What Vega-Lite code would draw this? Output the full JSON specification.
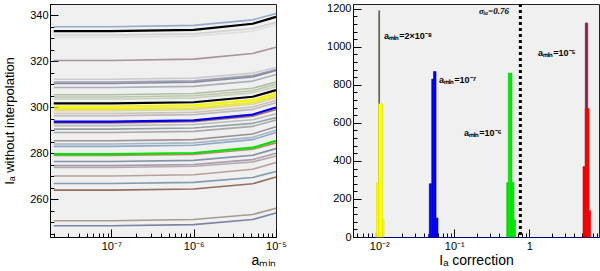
{
  "$schema": "https://vega.github.io/schema/vega-lite/v6.json",
  "padding": {"left": 3, "top": -3, "right": 2, "bottom": 0},
  "spacing": 39,
  "resolve": {"scale": {"color": "independent", "stroke": "independent"}},
  "config": {
    "font": "Liberation Sans",
    "view": {"fill": "#f0f0f0", "stroke": "#222222", "strokeWidth": 1},
    "axis": {
      "grid": false,
      "domainColor": "#000000",
      "tickColor": "#000000",
      "labelColor": "#000000",
      "titleColor": "#000000",
      "labelFontSize": 11,
      "titleFontSize": 14,
      "titleFontWeight": "normal",
      "labelOverlap": false,
      "labelFlush": false
    }
  },
  "datasets": {
    "lines": [
      {"s":1,"a":2e-8,"v":335.1},{"s":1,"a":1e-7,"v":335.1},{"s":1,"a":1e-6,"v":335.7},{"s":1,"a":5.2e-6,"v":338.1},{"s":1,"a":1e-5,"v":340.9},
      {"s":2,"a":2e-8,"v":333.2},{"s":2,"a":1e-7,"v":333.2},{"s":2,"a":1e-6,"v":333.7},{"s":2,"a":5.2e-6,"v":336.4},{"s":2,"a":1e-5,"v":339.4},
      {"s":3,"a":2e-8,"v":331.5},{"s":3,"a":1e-7,"v":331.5},{"s":3,"a":1e-6,"v":332.0},{"s":3,"a":5.2e-6,"v":334.3},{"s":3,"a":1e-5,"v":337.0},
      {"s":4,"a":2e-8,"v":330.5},{"s":4,"a":1e-7,"v":330.5},{"s":4,"a":1e-6,"v":331.0},{"s":4,"a":5.2e-6,"v":333.2},{"s":4,"a":1e-5,"v":336.0},
      {"s":5,"a":2e-8,"v":320.4},{"s":5,"a":1e-7,"v":320.4},{"s":5,"a":1e-6,"v":321.0},{"s":5,"a":5.2e-6,"v":323.4},{"s":5,"a":1e-5,"v":326.2},
      {"s":6,"a":2e-8,"v":312.2},{"s":6,"a":1e-7,"v":312.2},{"s":6,"a":1e-6,"v":312.7},{"s":6,"a":5.2e-6,"v":314.9},{"s":6,"a":1e-5,"v":317.3},
      {"s":7,"a":2e-8,"v":311.0},{"s":7,"a":1e-7,"v":311.0},{"s":7,"a":1e-6,"v":311.5},{"s":7,"a":5.2e-6,"v":313.8},{"s":7,"a":1e-5,"v":316.5},
      {"s":8,"a":2e-8,"v":310.4},{"s":8,"a":1e-7,"v":310.4},{"s":8,"a":1e-6,"v":310.9},{"s":8,"a":5.2e-6,"v":313.2},{"s":8,"a":1e-5,"v":316.0},
      {"s":9,"a":2e-8,"v":308.6},{"s":9,"a":1e-7,"v":308.6},{"s":9,"a":1e-6,"v":309.1},{"s":9,"a":5.2e-6,"v":311.4},{"s":9,"a":1e-5,"v":314.3},
      {"s":10,"a":2e-8,"v":305.5},{"s":10,"a":1e-7,"v":305.5},{"s":10,"a":1e-6,"v":306.0},{"s":10,"a":5.2e-6,"v":308.3},{"s":10,"a":1e-5,"v":311.0},
      {"s":11,"a":2e-8,"v":304.5},{"s":11,"a":1e-7,"v":304.5},{"s":11,"a":1e-6,"v":305.0},{"s":11,"a":5.2e-6,"v":307.2},{"s":11,"a":1e-5,"v":310.0},
      {"s":12,"a":2e-8,"v":303.6},{"s":12,"a":1e-7,"v":303.6},{"s":12,"a":1e-6,"v":304.1},{"s":12,"a":5.2e-6,"v":306.3},{"s":12,"a":1e-5,"v":309.0},
      {"s":13,"a":2e-8,"v":301.7},{"s":13,"a":1e-7,"v":301.7},{"s":13,"a":1e-6,"v":302.2},{"s":13,"a":5.2e-6,"v":304.6},{"s":13,"a":1e-5,"v":307.5},
      {"s":14,"a":2e-8,"v":300.3},{"s":14,"a":1e-7,"v":300.3},{"s":14,"a":1e-6,"v":300.8},{"s":14,"a":5.2e-6,"v":303.1},{"s":14,"a":1e-5,"v":306.0},
      {"s":15,"a":2e-8,"v":299.2},{"s":15,"a":1e-7,"v":299.2},{"s":15,"a":1e-6,"v":299.7},{"s":15,"a":5.2e-6,"v":302.0},{"s":15,"a":1e-5,"v":305.0},
      {"s":16,"a":2e-8,"v":298.5},{"s":16,"a":1e-7,"v":298.5},{"s":16,"a":1e-6,"v":299.0},{"s":16,"a":5.2e-6,"v":301.3},{"s":16,"a":1e-5,"v":304.2},
      {"s":17,"a":2e-8,"v":297.3},{"s":17,"a":1e-7,"v":297.3},{"s":17,"a":1e-6,"v":297.8},{"s":17,"a":5.2e-6,"v":300.1},{"s":17,"a":1e-5,"v":303.0},
      {"s":18,"a":2e-8,"v":296.3},{"s":18,"a":1e-7,"v":296.3},{"s":18,"a":1e-6,"v":296.8},{"s":18,"a":5.2e-6,"v":299.1},{"s":18,"a":1e-5,"v":302.0},
      {"s":19,"a":2e-8,"v":293.8},{"s":19,"a":1e-7,"v":293.8},{"s":19,"a":1e-6,"v":294.3},{"s":19,"a":5.2e-6,"v":296.8},{"s":19,"a":1e-5,"v":299.9},
      {"s":20,"a":2e-8,"v":293.2},{"s":20,"a":1e-7,"v":293.2},{"s":20,"a":1e-6,"v":293.7},{"s":20,"a":5.2e-6,"v":296.1},{"s":20,"a":1e-5,"v":299.0},
      {"s":21,"a":2e-8,"v":292.0},{"s":21,"a":1e-7,"v":292.0},{"s":21,"a":1e-6,"v":292.5},{"s":21,"a":5.2e-6,"v":294.6},{"s":21,"a":1e-5,"v":297.2},
      {"s":22,"a":2e-8,"v":290.5},{"s":22,"a":1e-7,"v":290.5},{"s":22,"a":1e-6,"v":291.0},{"s":22,"a":5.2e-6,"v":293.0},{"s":22,"a":1e-5,"v":295.5},
      {"s":23,"a":2e-8,"v":289.0},{"s":23,"a":1e-7,"v":289.0},{"s":23,"a":1e-6,"v":289.5},{"s":23,"a":5.2e-6,"v":291.7},{"s":23,"a":1e-5,"v":294.5},
      {"s":24,"a":2e-8,"v":285.4},{"s":24,"a":1e-7,"v":285.4},{"s":24,"a":1e-6,"v":285.9},{"s":24,"a":5.2e-6,"v":288.4},{"s":24,"a":1e-5,"v":291.5},
      {"s":25,"a":2e-8,"v":284.0},{"s":25,"a":1e-7,"v":284.0},{"s":25,"a":1e-6,"v":284.5},{"s":25,"a":5.2e-6,"v":286.9},{"s":25,"a":1e-5,"v":290.0},
      {"s":26,"a":2e-8,"v":283.0},{"s":26,"a":1e-7,"v":283.0},{"s":26,"a":1e-6,"v":283.5},{"s":26,"a":5.2e-6,"v":285.9},{"s":26,"a":1e-5,"v":289.0},
      {"s":27,"a":2e-8,"v":279.6},{"s":27,"a":1e-7,"v":279.6},{"s":27,"a":1e-6,"v":280.1},{"s":27,"a":5.2e-6,"v":282.4},{"s":27,"a":1e-5,"v":285.4},
      {"s":28,"a":2e-8,"v":279.0},{"s":28,"a":1e-7,"v":279.0},{"s":28,"a":1e-6,"v":279.5},{"s":28,"a":5.2e-6,"v":281.7},{"s":28,"a":1e-5,"v":284.5},
      {"s":29,"a":2e-8,"v":276.4},{"s":29,"a":1e-7,"v":276.4},{"s":29,"a":1e-6,"v":276.9},{"s":29,"a":5.2e-6,"v":279.1},{"s":29,"a":1e-5,"v":282.0},
      {"s":30,"a":2e-8,"v":274.6},{"s":30,"a":1e-7,"v":274.6},{"s":30,"a":1e-6,"v":275.1},{"s":30,"a":5.2e-6,"v":277.2},{"s":30,"a":1e-5,"v":280.0},
      {"s":31,"a":2e-8,"v":273.8},{"s":31,"a":1e-7,"v":273.8},{"s":31,"a":1e-6,"v":274.3},{"s":31,"a":5.2e-6,"v":276.2},{"s":31,"a":1e-5,"v":278.8},
      {"s":32,"a":2e-8,"v":270.1},{"s":32,"a":1e-7,"v":270.1},{"s":32,"a":1e-6,"v":270.6},{"s":32,"a":5.2e-6,"v":273.0},{"s":32,"a":1e-5,"v":276.0},
      {"s":33,"a":2e-8,"v":266.8},{"s":33,"a":1e-7,"v":266.8},{"s":33,"a":1e-6,"v":267.3},{"s":33,"a":5.2e-6,"v":269.4},{"s":33,"a":1e-5,"v":272.0},
      {"s":34,"a":2e-8,"v":263.9},{"s":34,"a":1e-7,"v":263.9},{"s":34,"a":1e-6,"v":264.4},{"s":34,"a":5.2e-6,"v":266.7},{"s":34,"a":1e-5,"v":269.6},
      {"s":35,"a":2e-8,"v":250.6},{"s":35,"a":1e-7,"v":250.6},{"s":35,"a":1e-6,"v":251.1},{"s":35,"a":5.2e-6,"v":253.3},{"s":35,"a":1e-5,"v":256.0},
      {"s":36,"a":2e-8,"v":248.4},{"s":36,"a":1e-7,"v":248.4},{"s":36,"a":1e-6,"v":248.9},{"s":36,"a":5.2e-6,"v":251.1},{"s":36,"a":1e-5,"v":254.0}
    ],
    "hist": [
      {"h":"m","x0":5.58,"x1":6.01,"n":1125},
      {"h":"y","x0":0.0089,"x1":0.00918,"n":20},
      {"h":"y","x0":0.00918,"x1":0.00976,"n":285},
      {"h":"y","x0":0.00976,"x1":0.01104,"n":700},
      {"h":"y","x0":0.01104,"x1":0.01156,"n":90},
      {"h":"b","x0":0.0455,"x1":0.0464,"n":15},
      {"h":"b","x0":0.0464,"x1":0.05,"n":280},
      {"h":"b","x0":0.05,"x1":0.0528,"n":830},
      {"h":"b","x0":0.0528,"x1":0.0571,"n":870},
      {"h":"b","x0":0.0571,"x1":0.0606,"n":100},
      {"h":"g","x0":0.4996,"x1":0.5248,"n":286},
      {"h":"g","x0":0.5248,"x1":0.5878,"n":862},
      {"h":"g","x0":0.5878,"x1":0.6252,"n":286},
      {"h":"g","x0":0.6252,"x1":0.6546,"n":90},
      {"h":"r","x0":5.2,"x1":5.58,"n":370},
      {"h":"r","x0":5.58,"x1":6.01,"n":675},
      {"h":"r","x0":6.01,"x1":6.25,"n":675},
      {"h":"r","x0":6.25,"x1":6.55,"n":140}
    ],
    "spike": [
      {"x0":0.00985,"x1":0.01009,"n":1190}
    ],
    "sig": [
      {"x0":0.76,"n":1225,"n0":0}
    ],
    "notes": [
      {"x0":0.01155,"n":1055,"t":"aₘᵢₙ=2×10⁻⁸"},
      {"x0":0.0625,"n":823,"t":"aₘᵢₙ=10⁻⁷"},
      {"x0":0.1346,"n":545,"t":"aₘᵢₙ=10⁻⁶"},
      {"x0":1.306,"n":970,"t":"aₘᵢₙ=10⁻⁵"}
    ],
    "sigma": [
      {"x0":0.2133,"n":1190,"t":"σᵢₐ=0.76"}
    ]
  },
  "hconcat": [
    {
      "width": 226,
      "height": 233,
      "data": {"name": "lines"},
      "encoding": {
        "x": {
          "field": "a", "type": "quantitative",
          "scale": {"type": "log", "domain": [1.8e-8, 1e-5], "nice": false},
          "axis": {
            "title": "aₘᵢₙ",
            "titleAnchor": "end",
            "titlePadding": -2,
            "values": [2e-8,3e-8,4e-8,5e-8,6e-8,7e-8,8e-8,9e-8,1e-7,2e-7,3e-7,4e-7,5e-7,6e-7,7e-7,8e-7,9e-7,1e-6,2e-6,3e-6,4e-6,5e-6,6e-6,7e-6,8e-6,9e-6,1e-5],
            "labelExpr": "abs(log(datum.value)/LN10+7)<0.01 ? '10⁻⁷' : abs(log(datum.value)/LN10+6)<0.01 ? '10⁻⁶' : abs(log(datum.value)/LN10+5)<0.01 ? '10⁻⁵' : ''",
            "tickSize": {"condition": {"test": "abs(log(datum.value)/LN10 - round(log(datum.value)/LN10)) < 0.01", "value": -8}, "value": -4},
            "labelPadding": 11
          }
        },
        "y": {
          "field": "v", "type": "quantitative",
          "scale": {"domain": [243.5, 345], "nice": false, "zero": false},
          "axis": {
            "title": "Iₐ without interpolation",
            "titleFontSize": 13,
            "titlePadding": 13,
            "values": [245,250,255,260,265,270,275,280,285,290,295,300,305,310,315,320,325,330,335,340,345],
            "format": "d",
            "labelExpr": "indexof([260,280,300,320,340], datum.value) >= 0 ? datum.label : ''",
            "tickSize": {"condition": {"test": "indexof([260,280,300,320,340], datum.value) >= 0", "value": -8}, "value": -4},
            "labelPadding": 10
          }
        },
        "color": {
          "field": "s", "type": "nominal", "legend": null,
          "scale": {
            "domain": [1,2,3,4,5,6,7,8,9,10,11,12,13,14,15,16,17,18,19,20,21,22,23,24,25,26,27,28,29,30,31,32,33,34,35,36],
            "range": ["#8ea2c8","#000000","#cfcfcf","#dddddd","#a08a90","#c8c8cc","#9696aa","#7d8198","#a0aab0","#a8b89a","#b4c2a4","#c4ccb4","#000000","#f5f500","#e8e840","#d8d0a0","#c8c0b0","#b8b0b8","#0000e6","#a06060","#b0b8b0","#8898a0","#a0a0a0","#908888","#a0b0c0","#80a0c0","#00e000","#b08060","#7888a0","#a090a8","#b0a0a0","#b09890","#7890a8","#8a6050","#a09088","#707898"]
          }
        },
        "detail": {"field": "s", "type": "nominal"}
      },
      "layer": [
        {
          "transform": [{"filter": {"not": {"field": "s", "oneOf": [2, 13, 14, 15, 19, 27]}}}],
          "mark": {"type": "line", "strokeWidth": 1.6, "opacity": 0.9}
        },
        {
          "transform": [{"filter": {"field": "s", "oneOf": [2, 13, 14, 15, 19, 27]}}],
          "mark": {"type": "line", "strokeWidth": 2.2}
        }
      ]
    },
    {
      "width": 246,
      "height": 233,
      "encoding": {
        "x": {
          "field": "x0", "type": "quantitative",
          "scale": {"type": "log", "domain": [0.00446, 8.5], "nice": false},
          "axis": {
            "title": "Iₐ correction",
            "titlePadding": -2,
            "values": [0.005,0.006,0.007,0.008,0.009,0.01,0.02,0.03,0.04,0.05,0.06,0.07,0.08,0.09,0.1,0.2,0.3,0.4,0.5,0.6,0.7,0.8,0.9,1,2,3,4,5,6,7,8],
            "labelExpr": "abs(log(datum.value)/LN10+2)<0.01 ? '10⁻²' : abs(log(datum.value)/LN10+1)<0.01 ? '10⁻¹' : abs(log(datum.value)/LN10)<0.01 ? '1' : ''",
            "tickSize": {"condition": {"test": "abs(log(datum.value)/LN10 - round(log(datum.value)/LN10)) < 0.01", "value": -8}, "value": -4},
            "labelPadding": 11,
            "domainColor": "#000080"
          }
        },
        "y": {
          "field": "n", "type": "quantitative",
          "scale": {"domain": [0, 1225], "nice": false},
          "axis": {
            "title": null,
            "values": [0,40,80,120,160,200,240,280,320,360,400,440,480,520,560,600,640,680,720,760,800,840,880,920,960,1000,1040,1080,1120,1160,1200],
            "format": "d",
            "labelExpr": "indexof([0,200,400,600,800,1000,1200], datum.value) >= 0 ? datum.label : ''",
            "tickSize": {"condition": {"test": "indexof([0,200,400,600,800,1000,1200], datum.value) >= 0", "value": -8}, "value": -4},
            "labelPadding": 10
          }
        }
      },
      "layer": [
        {
          "data": {"name": "spike"},
          "mark": {"type": "rect", "fill": "#ffff60", "stroke": "#444444", "strokeWidth": 0.8},
          "encoding": {
            "x2": {"field": "x1"},
            "y2": {"datum": 0}
          }
        },
        {
          "data": {"name": "hist"},
          "mark": {"type": "rect", "strokeWidth": 0.6},
          "encoding": {
            "x2": {"field": "x1"},
            "y2": {"datum": 0},
            "color": {
              "field": "h", "type": "nominal", "legend": null,
              "scale": {"domain": ["m","y","b","g","r"], "range": ["#8b1a4a","#ffff00","#0000ee","#00ee00","#ff0000"]}
            },
            "stroke": {
              "field": "h", "type": "nominal", "legend": null,
              "scale": {"domain": ["m","y","b","g","r"], "range": ["#7a1a45","#e0e000","#0000cc","#00cc00","#dd0000"]}
            }
          }
        },
        {
          "data": {"name": "sig"},
          "mark": {"type": "rule", "strokeDash": [3, 3], "strokeWidth": 3, "color": "#000000"},
          "encoding": {"y2": {"field": "n0"}}
        },
        {
          "data": {"name": "notes"},
          "mark": {"type": "text", "align": "left", "baseline": "middle", "fontSize": 9, "fontWeight": "bold", "color": "#000000"},
          "encoding": {"text": {"field": "t"}}
        },
        {
          "data": {"name": "sigma"},
          "mark": {"type": "text", "align": "left", "baseline": "middle", "fontSize": 9, "fontStyle": "italic", "fontWeight": "bold", "font": "Liberation Serif", "color": "#000000"},
          "encoding": {"text": {"field": "t"}}
        }
      ]
    }
  ]
}
